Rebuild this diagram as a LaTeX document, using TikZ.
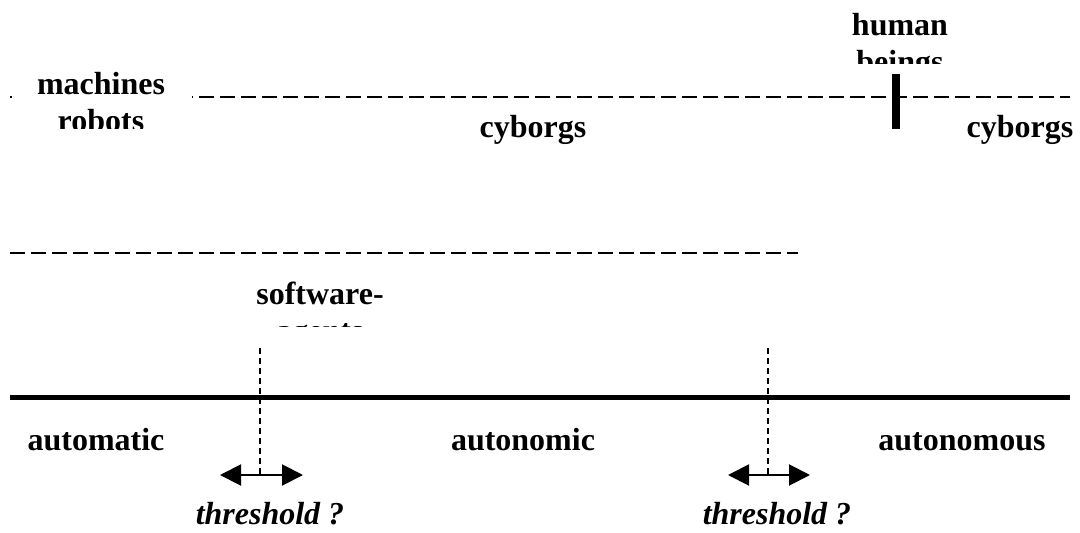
\documentclass[tikz,border=0pt]{standalone}
\usepackage{fontspec}
\setmainfont{Liberation Serif}
\usetikzlibrary{arrows.meta}
\begin{document}
\begin{tikzpicture}[x=1pt,y=-1pt,
  lbl/.style={font=\fontsize{32}{37}\selectfont\bfseries, inner sep=0pt, anchor=base},
  thr/.style={font=\fontsize{32}{37}\selectfont\bfseries\itshape, inner sep=0pt, anchor=base},
  scaleline/.style={line width=2.6pt, dash pattern=on 15pt off 6pt},
  axisline/.style={line width=5pt},
  tdash/.style={line width=1.3pt, dash pattern=on 6pt off 4pt},
  dbl/.style={line width=2pt, {Triangle[length=21pt,width=21pt]}-{Triangle[length=21pt,width=21pt]}},
  humanbar/.style={line width=8pt},
]
\useasboundingbox (0,0) rectangle (1080,533);

% coordinates
\coordinate (top-l) at (10,97);
\coordinate (top-r) at (1070,97);
\coordinate (mid-l) at (10,253);
\coordinate (mid-r) at (798,253);
\coordinate (ax-l) at (10,397);
\coordinate (ax-r) at (1070,397);
\coordinate (bar-t) at (895.5,74);
\coordinate (bar-b) at (895.5,129);
\coordinate (t1-t) at (260,348);
\coordinate (t1-b) at (260,475);
\coordinate (t2-t) at (768,348);
\coordinate (t2-b) at (768,475);
\coordinate (a1-l) at (220,475);
\coordinate (a1-r) at (303,475);
\coordinate (a2-l) at (728,475);
\coordinate (a2-r) at (810,475);

% lines
\draw[scaleline] (top-l) -- (top-r);
\draw[scaleline] (mid-l) -- (mid-r);
\draw[humanbar] (bar-t) -- (bar-b);
\draw[axisline] (ax-l) -- (ax-r);
\draw[tdash] (t1-t) -- (t1-b);
\draw[tdash] (t2-t) -- (t2-b);
\draw[dbl] (a1-l) -- (a1-r);
\draw[dbl] (a2-l) -- (a2-r);

% clipped label boxes
\begin{scope}
  \fill[white] (12,62) rectangle (192,128);
  \clip (12,62) rectangle (192,128);
  \node[lbl] (machines) at (101,94) {machines};
  \node[lbl] (robots) at (101,131) {robots};
\end{scope}
\begin{scope}
  \clip (840,0) rectangle (960,63);
  \node[lbl] (human) at (900,35) {human};
  \node[lbl] (beings) at (900,72) {beings};
\end{scope}
\begin{scope}
  \clip (240,262) rectangle (400,326);
  \node[lbl] (software) at (320,304) {software-};
  \node[lbl] (agents) at (320,341) {agents};
\end{scope}

% labels
\node[lbl] (cyb1) at (533,137) {cyborgs};
\node[lbl] (cyb2) at (1020,137) {cyborgs};
\node[lbl] (automatic) at (96,450) {automatic};
\node[lbl] (autonomic) at (523,450) {autonomic};
\node[lbl] (autonomous) at (962,450) {autonomous};
\node[thr] (thr1) at (270,524) {threshold ?};
\node[thr] (thr2) at (777,524) {threshold ?};
\end{tikzpicture}
\end{document}
